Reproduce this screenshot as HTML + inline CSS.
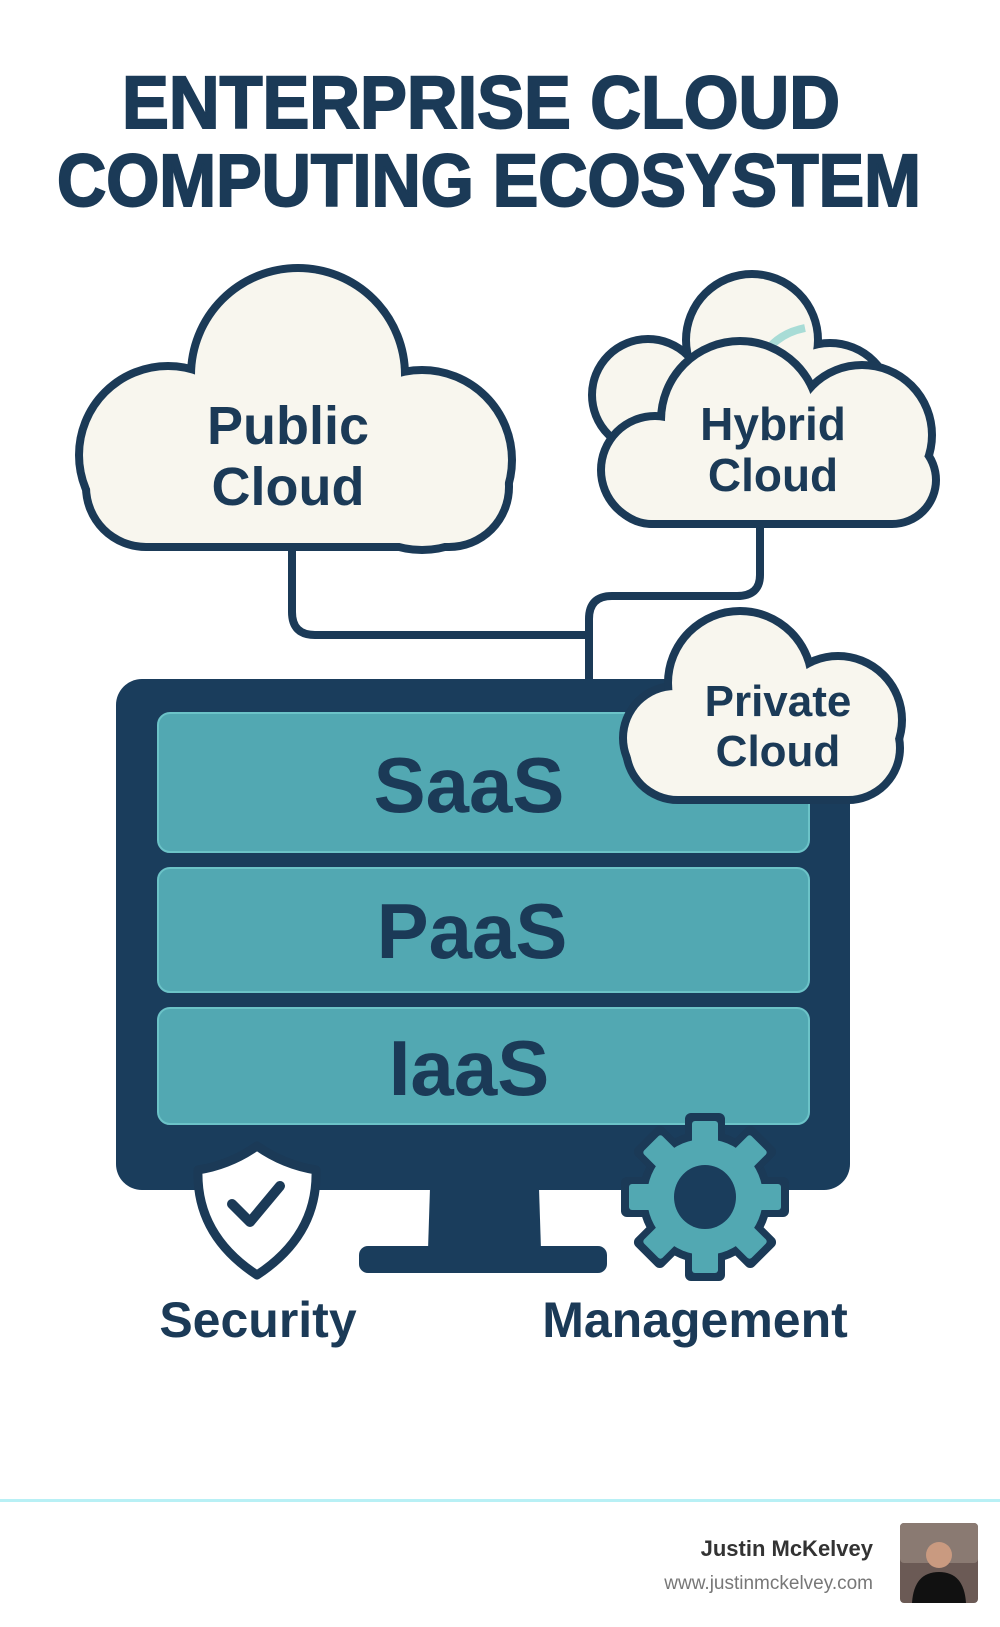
<!DOCTYPE html>
<html><head><meta charset="utf-8"><style>
body{margin:0;background:#fff;width:1000px;height:1627px;overflow:hidden;font-family:"Liberation Sans",sans-serif}
</style></head><body>
<svg width="1000" height="1627" viewBox="0 0 1000 1627" xmlns="http://www.w3.org/2000/svg" style="position:absolute;left:0;top:0">
<g font-family="Liberation Sans, sans-serif" font-weight="bold" fill="#1b3a57" stroke="#1b3a57" stroke-width="2">
<text x="122" y="128" font-size="74" textLength="718" lengthAdjust="spacingAndGlyphs">ENTERPRISE CLOUD</text>
<text x="57" y="206" font-size="74" textLength="864" lengthAdjust="spacingAndGlyphs">COMPUTING ECOSYSTEM</text>
</g>
<!-- connectors -->
<g fill="none" stroke="#1b3a57" stroke-width="8">
<path d="M292 540 V612 Q292 635 315 635 H589"/>
<path d="M760 520 V575 Q760 596 737 596 H612 Q589 596 589 619 V685"/>
</g>
<!-- public cloud -->
<g stroke="#1b3a57" stroke-width="16" fill="#1b3a57">
<circle cx="168" cy="455" r="85"/><circle cx="298" cy="375" r="103"/><circle cx="422" cy="460" r="86"/><rect x="90" y="430" width="415" height="113" rx="56"/>
</g>
<g fill="#f8f6ee">
<circle cx="168" cy="455" r="85"/><circle cx="298" cy="375" r="103"/><circle cx="422" cy="460" r="86"/><rect x="90" y="430" width="415" height="113" rx="56"/>
</g>
<!-- hybrid back -->
<g stroke="#1b3a57" stroke-width="16" fill="#1b3a57">
<circle cx="648" cy="395" r="52"/><circle cx="752" cy="340" r="62"/><circle cx="830" cy="405" r="58"/>
</g>
<g fill="#f8f6ee"><circle cx="648" cy="395" r="52"/><circle cx="752" cy="340" r="62"/><circle cx="830" cy="405" r="58"/></g>
<path d="M757 368 Q770 335 805 328" stroke="#a8dcd6" stroke-width="8" fill="none"/>
<!-- hybrid front -->
<g stroke="#1b3a57" stroke-width="16" fill="#1b3a57">
<circle cx="655" cy="470" r="50"/><circle cx="740" cy="420" r="75"/><circle cx="862" cy="435" r="66"/><rect x="612" y="440" width="320" height="80" rx="40"/>
</g>
<g fill="#f8f6ee"><circle cx="655" cy="470" r="50"/><circle cx="740" cy="420" r="75"/><circle cx="862" cy="435" r="66"/><rect x="612" y="440" width="320" height="80" rx="40"/></g>
<!-- monitor -->
<rect x="116" y="679" width="734" height="511" rx="26" fill="#1a3d5c"/>
<path d="M430 1188 L539 1188 L541 1250 L428 1250 Z" fill="#1a3d5c"/>
<rect x="359" y="1246" width="248" height="27" rx="9" fill="#1a3d5c"/>
<g fill="#52a8b2" stroke="#6cc3c8" stroke-width="2">
<rect x="158" y="713" width="651" height="139" rx="12"/>
<rect x="158" y="868" width="651" height="124" rx="12"/>
<rect x="158" y="1008" width="651" height="116" rx="12"/>
</g>
<g font-weight="bold" font-size="78" fill="#1b3a57" text-anchor="middle">
<text x="469" y="812">SaaS</text><text x="472" y="958">PaaS</text><text x="469" y="1095">IaaS</text>
</g>
<!-- private cloud -->
<g stroke="#1b3a57" stroke-width="16" fill="#1b3a57">
<circle cx="675" cy="738" r="48"/><circle cx="740" cy="683" r="68"/><circle cx="838" cy="720" r="60"/><rect x="630" y="700" width="266" height="96" rx="48"/>
</g>
<g fill="#f8f6ee"><circle cx="675" cy="738" r="48"/><circle cx="740" cy="683" r="68"/><circle cx="838" cy="720" r="60"/><rect x="630" y="700" width="266" height="96" rx="48"/></g>
<!-- cloud labels -->
<g font-weight="bold" fill="#1b3a57" text-anchor="middle">
<text x="288" y="444" font-size="54">Public</text><text x="288" y="505" font-size="54">Cloud</text>
<text x="773" y="440" font-size="46">Hybrid</text><text x="773" y="491" font-size="46">Cloud</text>
<text x="778" y="716" font-size="44">Private</text><text x="778" y="766" font-size="44">Cloud</text>
</g>
<!-- shield -->
<path d="M257 1146 Q230 1165 198 1170 Q196 1235 257 1275 Q318 1235 316 1170 Q284 1165 257 1146 Z" fill="#fff" stroke="#1b3a57" stroke-width="9" stroke-linejoin="round"/>
<path d="M232 1204 L250 1222 L280 1186" fill="none" stroke="#1b3a57" stroke-width="10" stroke-linecap="round" stroke-linejoin="round"/>
<!-- gear -->
<g transform="translate(705 1197)">
<g fill="#1b3a57">
<circle r="66"/>
<g id="t"><rect x="-20" y="-84" width="40" height="40" rx="6"/></g>
<use href="#t" transform="rotate(45)"/><use href="#t" transform="rotate(90)"/><use href="#t" transform="rotate(135)"/><use href="#t" transform="rotate(180)"/><use href="#t" transform="rotate(225)"/><use href="#t" transform="rotate(270)"/><use href="#t" transform="rotate(315)"/>
</g>
<g fill="#52a8b2">
<circle r="58"/>
<g id="t2"><rect x="-13" y="-76" width="26" height="36" rx="3"/></g>
<use href="#t2" transform="rotate(45)"/><use href="#t2" transform="rotate(90)"/><use href="#t2" transform="rotate(135)"/><use href="#t2" transform="rotate(180)"/><use href="#t2" transform="rotate(225)"/><use href="#t2" transform="rotate(270)"/><use href="#t2" transform="rotate(315)"/>
</g>
<ellipse rx="31" ry="32" fill="#1a3d5c"/>
</g>
<g font-weight="bold" fill="#1b3a57" text-anchor="middle" font-size="50">
<text x="258" y="1337">Security</text><text x="695" y="1337">Management</text>
</g>
<rect x="0" y="1499" width="1000" height="3" fill="#b8f0f5"/>
<text x="873" y="1556" text-anchor="end" font-weight="bold" font-size="22" fill="#333">Justin McKelvey</text>
<text x="873" y="1589" text-anchor="end" font-size="19" fill="#777">www.justinmckelvey.com</text>
<rect x="900" y="1523" width="78" height="80" rx="4" fill="#6b5a55"/>
<rect x="900" y="1523" width="78" height="40" rx="4" fill="#8a7a72"/>
<circle cx="939" cy="1555" r="13" fill="#c99a80"/>
<path d="M912 1603 Q914 1572 939 1572 Q964 1572 966 1603 Z" fill="#111"/>
</svg>
</body></html>
